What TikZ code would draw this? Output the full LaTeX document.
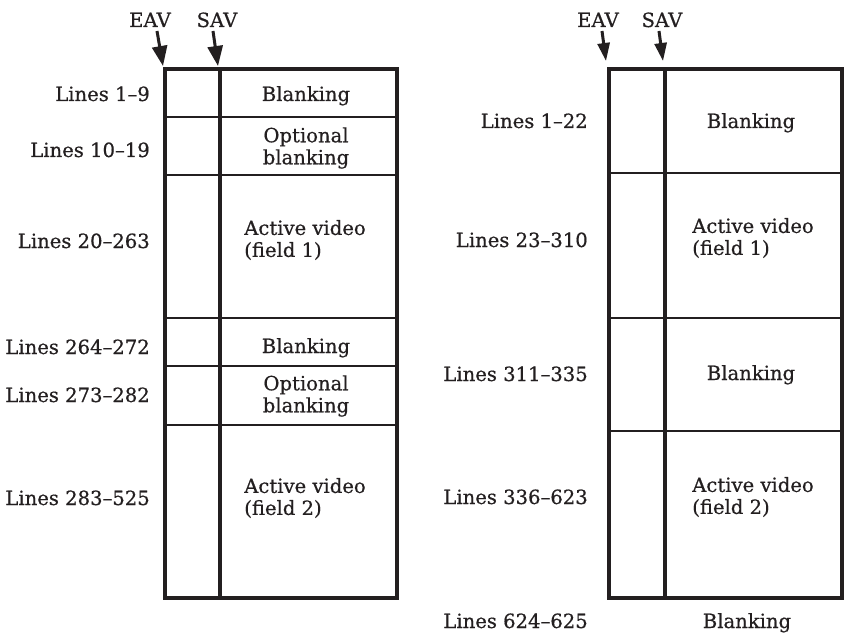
\documentclass[tikz,border=0pt]{standalone}
\usepackage{fontspec}
\setmainfont[FakeBold=0.6]{DejaVu Serif}
\usetikzlibrary{arrows.meta}
\definecolor{ink}{HTML}{231F20}
\begin{document}
\begin{tikzpicture}[x=1pt,y=-1pt,
  lbl/.style={font=\fontsize{19.6}{22}\selectfont, text=ink, inner sep=0pt},
  rlbl/.style={lbl, anchor=base east},
  bcell/.style={lbl, anchor=base},
  ccell/.style={lbl, align=center},
  lcell/.style={lbl, align=left},
  outerbox/.style={draw=ink, line width=4.5pt},
  divv/.style={draw=ink, line width=3.8pt},
  divh/.style={draw=ink, line width=2pt},
  ptrbig/.style={draw=ink, line width=3pt, -{Triangle[length=20pt,width=15pt]}},
  ptrsmall/.style={draw=ink, line width=3pt, -{Triangle[length=18pt,width=12pt]}}]
\useasboundingbox (0,0) rectangle (847,634);

% ---------- left table ----------
\coordinate (LTL) at (165,69);
\coordinate (LBR) at (397,598);
\foreach \yy/\nm in {117/a,175/b,318/c,366/d,425/e}{
  \coordinate (Lh\nm w) at (165,\yy);
  \coordinate (Lh\nm e) at (397,\yy);
  \draw[divh] (Lh\nm w) -- (Lh\nm e);
}
\coordinate (Lvt) at (220,69);
\coordinate (Lvb) at (220,598);
\draw[divv] (Lvt) -- (Lvb);
\draw[outerbox] (LTL) rectangle (LBR);

\node[bcell] (L1) at (306,101) {Blanking};
\node[ccell] (L2) at (306,148) {Optional\\blanking};
\node[lcell] (L3) at (305,240) {Active video\\(field 1)};
\node[bcell] (L4) at (306,353) {Blanking};
\node[ccell] (L5) at (306,396) {Optional\\blanking};
\node[lcell] (L6) at (305,498) {Active video\\(field 2)};

\node[rlbl] (LL1) at (150,101) {Lines 1–9};
\node[rlbl] (LL2) at (150,157) {Lines 10–19};
\node[rlbl] (LL3) at (150,248) {Lines 20–263};
\node[rlbl] (LL4) at (150,354) {Lines 264–272};
\node[rlbl] (LL5) at (150,402) {Lines 273–282};
\node[rlbl] (LL6) at (150,505) {Lines 283–525};

\node[bcell] (eavL) at (150,27) {EAV};
\node[bcell] (savL) at (217,27) {SAV};
\coordinate (eavLtail) at (157,31);
\coordinate (eavLtip) at (163,66);
\coordinate (savLtail) at (213,31);
\coordinate (savLtip) at (218,66);
\draw[ptrbig] (eavLtail) -- (eavLtip);
\draw[ptrbig] (savLtail) -- (savLtip);

% ---------- right table ----------
\coordinate (RTL) at (609,69);
\coordinate (RBR) at (842,598);
\foreach \yy/\nm in {173/a,318/b,431/c}{
  \coordinate (Rh\nm w) at (609,\yy);
  \coordinate (Rh\nm e) at (842,\yy);
  \draw[divh] (Rh\nm w) -- (Rh\nm e);
}
\coordinate (Rvt) at (665,69);
\coordinate (Rvb) at (665,598);
\draw[divv] (Rvt) -- (Rvb);
\draw[outerbox] (RTL) rectangle (RBR);

\node[bcell] (R1) at (751,128) {Blanking};
\node[lcell] (R2) at (753,238) {Active video\\(field 1)};
\node[bcell] (R3) at (751,380) {Blanking};
\node[lcell] (R4) at (753,497) {Active video\\(field 2)};
\node[bcell] (R5) at (747,628) {Blanking};

\node[rlbl] (RL1) at (588,128) {Lines 1–22};
\node[rlbl] (RL2) at (588,247) {Lines 23–310};
\node[rlbl] (RL3) at (588,381) {Lines 311–335};
\node[rlbl] (RL4) at (588,504) {Lines 336–623};
\node[rlbl] (RL5) at (588,628) {Lines 624–625};

\node[bcell] (eavR) at (598,27) {EAV};
\node[bcell] (savR) at (662,27) {SAV};
\coordinate (eavRtail) at (602,31);
\coordinate (eavRtip) at (606,61);
\coordinate (savRtail) at (659,31);
\coordinate (savRtip) at (663,61);
\draw[ptrsmall] (eavRtail) -- (eavRtip);
\draw[ptrsmall] (savRtail) -- (savRtip);
\end{tikzpicture}
\end{document}
